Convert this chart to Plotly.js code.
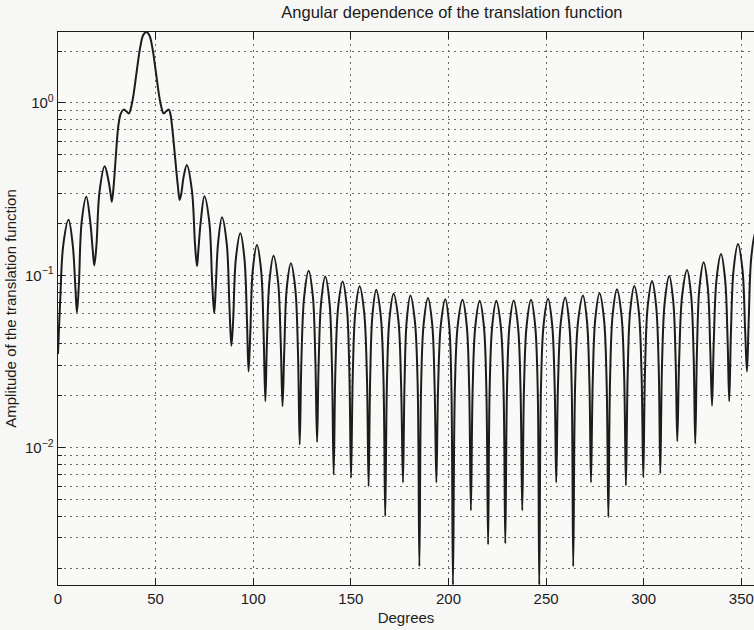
<!DOCTYPE html>
<html>
<head>
<meta charset="utf-8">
<script src="https://cdn.plot.ly/plotly-3.0.1.min.js"></script>
<style>
  html, body { margin: 0; padding: 0; background: #f7f7f5; }
  #chart { width: 754px; height: 630px; }
</style>
</head>
<body>
<div id="chart"></div>
<script>
// Angle in degrees and amplitude
const angleDeg = [
  0, 1.1, 2.7, 5.4, 7.55, 8.9, 9.7,
  10.7, 12.1, 14.5, 16.55, 17.8, 18.6,
  19.7, 21.25, 23.9, 25.75, 26.9, 27.6,
  28.6, 29.5, 31.0, 32.2, 33.6, 35.0, 36.3, 37.5, 38.8, 40.4, 42.1, 43.6,
  45.2,
  46.8, 48.3, 50.0, 51.6, 52.9, 54.1, 55.4, 56.8, 57.6, 58.6, 60.1, 61.4, 62.3,
  63.2, 64.3, 66.0, 68.6, 70.2, 71.2,
  71.9, 73.1, 75.0, 77.5, 79.0, 80.0,
  80.8, 82.0, 84.0, 86.4, 87.8, 88.8,
  89.7, 91.1, 93.4, 95.5, 96.8, 97.6,
  98.5, 99.75, 101.9, 104.05, 105.3, 106.2,
  107.0, 108.3, 110.4, 112.7, 114.1, 115.0,
  115.9, 117.15, 119.3, 121.55, 122.9, 123.8,
  124.7, 126.1, 128.4, 130.55, 131.8, 132.7,
  133.5, 134.8, 136.9, 139.05, 140.3, 141.2,
  142.1, 143.5, 145.8, 147.95, 149.2, 150.1,
  151.0, 152.3, 154.5, 156.8, 158.2, 159.1,
  159.9, 161.05, 163.0, 165.3, 166.7, 167.6,
  168.5, 169.75, 171.9, 174.3, 175.7, 176.7,
  177.5, 178.6, 180.5, 182.8, 184.2, 185.1,
  186.0, 187.3, 189.5, 191.65, 192.9, 193.8,
  194.7, 196.1, 198.4, 200.35, 201.5, 202.3,
  203.3, 204.75, 207.2, 209.35, 210.6, 211.5,
  212.4, 213.75, 216.0, 218.15, 219.4, 220.3,
  221.1, 222.4, 224.5, 226.8, 228.2, 229.1,
  230.0, 231.25, 233.4, 235.6, 236.9, 237.8,
  238.7, 240.05, 242.3, 244.4, 245.7, 246.5,
  247.4, 248.75, 251.0, 253.1, 254.4, 255.2,
  256.1, 257.5, 259.8, 261.85, 263.1, 263.9,
  264.9, 266.4, 268.9, 270.95, 272.2, 273.0,
  273.9, 275.2, 277.4, 279.65, 281.0, 281.9,
  282.8, 284.1, 286.3, 288.6, 290.0, 290.9,
  291.8, 293.05, 295.2, 297.5, 298.9, 299.8,
  300.7, 302.05, 304.3, 306.4, 307.7, 308.5,
  309.4, 310.8, 313.1, 315.15, 316.4, 317.2,
  318.2, 319.7, 322.2, 324.3, 325.6, 326.4,
  327.3, 328.55, 330.7, 332.85, 334.1, 335.0,
  335.9, 337.3, 339.6, 341.7, 343.0, 343.8,
  344.7, 346.05, 348.3, 350.6, 351.98, 352.9,
  353.8, 355.1, 357.3, 360
];
const amplitude = [
  0.035, 0.07, 0.15, 0.21, 0.15, 0.085, 0.061,
  0.089, 0.203, 0.286, 0.203, 0.14, 0.114,
  0.15, 0.305, 0.43, 0.36, 0.30, 0.267,
  0.34, 0.47, 0.75, 0.87, 0.915, 0.895, 0.87, 0.95, 1.14, 1.55, 2.10, 2.47,
  2.58,
  2.47, 2.10, 1.55, 1.14, 0.95, 0.87, 0.895, 0.915, 0.86, 0.70, 0.467, 0.33, 0.274,
  0.30, 0.37, 0.436, 0.31, 0.15, 0.113,
  0.14, 0.204, 0.288, 0.204, 0.089, 0.0604,
  0.085, 0.154, 0.217, 0.154, 0.067, 0.0391,
  0.0544, 0.1246, 0.1755, 0.1246, 0.0544, 0.0277,
  0.0465, 0.1065, 0.150, 0.1065, 0.0465, 0.0186,
  0.0403, 0.0923, 0.130, 0.0923, 0.0403, 0.0174,
  0.0365, 0.0836, 0.1177, 0.0836, 0.0365, 0.01044,
  0.0329, 0.0754, 0.1062, 0.0754, 0.0329, 0.0108,
  0.0305, 0.0699, 0.0984, 0.0699, 0.0305, 0.0070,
  0.0286, 0.0654, 0.0921, 0.0654, 0.0286, 0.0067,
  0.0268, 0.0613, 0.0864, 0.0613, 0.0268, 0.00598,
  0.0255, 0.0585, 0.0824, 0.0585, 0.0255, 0.0040,
  0.0242, 0.0555, 0.0781, 0.0555, 0.0242, 0.00629,
  0.0237, 0.0542, 0.0764, 0.0542, 0.0237, 0.00205,
  0.0229, 0.0524, 0.0738, 0.0524, 0.0229, 0.00629,
  0.0226, 0.0517, 0.0728, 0.0517, 0.0226, 0.0016,
  0.0224, 0.0513, 0.0722, 0.0513, 0.0224, 0.00433,
  0.0221, 0.0506, 0.0712, 0.0506, 0.0221, 0.00275,
  0.0221, 0.0506, 0.0712, 0.0506, 0.0221, 0.00278,
  0.0222, 0.0508, 0.0715, 0.0508, 0.0222, 0.00433,
  0.0224, 0.0513, 0.0722, 0.0513, 0.0224, 0.0016,
  0.0227, 0.0519, 0.0731, 0.0519, 0.0227, 0.00629,
  0.0231, 0.0528, 0.0744, 0.0528, 0.0231, 0.00205,
  0.0237, 0.0542, 0.0764, 0.0542, 0.0237, 0.00629,
  0.0244, 0.0559, 0.0788, 0.0559, 0.0244, 0.00396,
  0.0258, 0.0591, 0.0832, 0.0591, 0.0258, 0.00604,
  0.0269, 0.0617, 0.0869, 0.0617, 0.0269, 0.00675,
  0.0288, 0.066, 0.0929, 0.066, 0.0288, 0.0071,
  0.0308, 0.0705, 0.0993, 0.0705, 0.0308, 0.0109,
  0.0334, 0.0764, 0.1076, 0.0764, 0.0334, 0.01054,
  0.037, 0.0847, 0.1193, 0.0847, 0.037, 0.01755,
  0.0413, 0.0946, 0.1332, 0.0946, 0.0413, 0.0186,
  0.0472, 0.108, 0.1522, 0.108, 0.0472, 0.0277,
  0.0554, 0.1268, 0.1786, 0.125
];

const xTickVals = [0, 50, 100, 150, 200, 250, 300, 350];
const yTickVals = [0.01, 0.1, 1];
const yTickText = ['10<sup>\u22122</sup>', '10<sup>\u22121</sup>', '10<sup>0</sup>'];
const yMinorVals = [0.002, 0.003, 0.004, 0.005, 0.006, 0.007, 0.008, 0.009,
                    0.02, 0.03, 0.04, 0.05, 0.06, 0.07, 0.08, 0.09,
                    0.2, 0.3, 0.4, 0.5, 0.6, 0.7, 0.8, 0.9, 2];

const ink = '#1c1c1c';
const gridInk = '#6a6a6a';
const fontFamily = 'Liberation Sans, Arial, Helvetica, sans-serif';

const trace = {
  x: angleDeg,
  y: amplitude,
  type: 'scatter',
  mode: 'lines',
  line: { color: ink, width: 2, shape: 'spline', smoothing: 1 },
  hoverinfo: 'x+y'
};

const layout = {
  width: 754,
  height: 630,
  margin: { l: 58, r: 0, t: 32, b: 45, pad: 0 },
  paper_bgcolor: '#f7f7f5',
  plot_bgcolor: '#f9f9f7',
  showlegend: false,
  font: { family: fontFamily, size: 15, color: ink },
  title: {
    text: 'Angular dependence of the translation function',
    font: { family: fontFamily, size: 16.5, color: ink },
    x: 0.566, xanchor: 'center', xref: 'paper',
    y: 0.981, yanchor: 'middle'
  },
  xaxis: {
    range: [0, 356.5],
    tickmode: 'array',
    tickvals: xTickVals,
    ticks: 'inside', ticklen: 7, tickwidth: 1, tickcolor: ink,
    showline: true, linecolor: ink, linewidth: 1.3, mirror: 'ticks',
    showgrid: true, gridcolor: gridInk, gridwidth: 1, griddash: '1.5px,4.5px',
    zeroline: false,
    tickfont: { family: fontFamily, size: 15, color: ink },
    title: { text: 'Degrees', font: { family: fontFamily, size: 15, color: ink }, standoff: 6 }
  },
  yaxis: {
    type: 'log',
    range: [-2.796, 0.4116],
    tickmode: 'array',
    tickvals: yTickVals,
    ticktext: yTickText,
    ticks: 'inside', ticklen: 7, tickwidth: 1, tickcolor: ink,
    showline: true, linecolor: ink, linewidth: 1.3, mirror: false,
    showgrid: true, gridcolor: gridInk, gridwidth: 1, griddash: '1.5px,4.5px',
    zeroline: false,
    tickfont: { family: fontFamily, size: 15, color: ink },
    minor: {
      tickmode: 'array',
      tickvals: yMinorVals,
      ticks: 'inside', ticklen: 4, tickwidth: 1, tickcolor: ink,
      showgrid: true, gridcolor: gridInk, gridwidth: 1, griddash: '1.5px,4.5px'
    },
    title: { text: 'Amplitude of the translation function', font: { family: fontFamily, size: 15, color: ink }, standoff: 4 }
  }
};

Plotly.newPlot('chart', [trace], layout, { displayModeBar: false, staticPlot: true });
</script>
</body>
</html>
